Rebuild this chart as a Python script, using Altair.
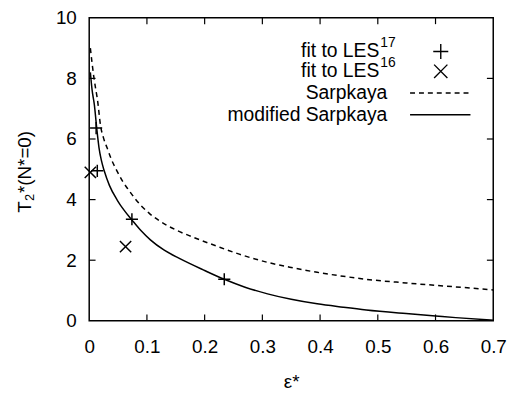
import altair as alt
import pandas as pd

# Sarpkaya (dashed)
sarp_eps = [0.002, 0.005, 0.008, 0.011, 0.014, 0.02, 0.025, 0.031, 0.038, 0.048, 0.058, 0.069,
            0.08, 0.09, 0.105, 0.12, 0.15, 0.18, 0.223, 0.26, 0.309, 0.35, 0.395, 0.44,
            0.48, 0.549, 0.6, 0.635, 0.7]
sarp_T = [9.0, 8.5, 8.05, 7.68, 7.34, 6.4, 6.02, 5.71, 5.35, 4.95, 4.6, 4.30,
          4.02, 3.80, 3.53, 3.32, 3.0, 2.76, 2.45, 2.2, 1.93, 1.76, 1.60, 1.47,
          1.37, 1.25, 1.17, 1.12, 1.02]

# modified Sarpkaya (solid)
mod_eps = [0.002, 0.005, 0.009, 0.013, 0.017, 0.021, 0.026, 0.035, 0.049, 0.06, 0.074, 0.09,
           0.106, 0.13, 0.157, 0.2, 0.234, 0.27, 0.309, 0.35, 0.395, 0.44, 0.48, 0.549,
           0.6, 0.635, 0.7]
mod_T = [8.2, 7.62, 7.12, 6.36, 5.71, 5.3, 4.95, 4.47, 3.97, 3.66, 3.33, 2.97,
         2.67, 2.33, 2.05, 1.66, 1.37, 1.11, 0.89, 0.71, 0.56, 0.45, 0.36, 0.24,
         0.16, 0.105, 0.02]

# fit to LES17 (+)
les17_eps = [0.012, 0.014, 0.074, 0.234]
les17_T = [6.36, 4.95, 3.35, 1.37]

# fit to LES16 (x)
les16_eps = [0.002, 0.063]
les16_T = [4.9, 2.45]

x_ticks = [0, 0.1, 0.2, 0.3, 0.4, 0.5, 0.6, 0.7]
y_ticks = [0, 2, 4, 6, 8, 10]

legend_labels = ["fit to LES", "fit to LES", "Sarpkaya", "modified Sarpkaya"]
legend_sups = ["17", "16", "", ""]

y_title_parts = ["T", "2", "*(N*=0)"]

FONT = "Liberation Sans"
W, H = 408, 306
TOP = 8

xs = alt.Scale(domain=[0, 0.7], nice=False, zero=False)
ys = alt.Scale(domain=[0, 10], nice=False)

sarp = pd.DataFrame({"eps": sarp_eps, "T": sarp_T})
mod = pd.DataFrame({"eps": mod_eps, "T": mod_T})
p17 = pd.DataFrame({"eps": les17_eps, "T": les17_T})
p16 = pd.DataFrame({"eps": les16_eps, "T": les16_T})

PLUS = "M-1,0L1,0M0,-1L0,1"
CROSS = "M-1,-1L1,1M-1,1L1,-1"

base_x = alt.X("eps:Q", scale=xs,
               axis=alt.Axis(values=x_ticks, format=".1~f", title="ε*", grid=False,
                             ticks=False, domain=False, labelPadding=17,
                             labelFlush=False, titlePadding=16))
base_y = alt.Y("T:Q", scale=ys,
               axis=alt.Axis(values=y_ticks, title="", grid=False,
                             ticks=False, domain=False, labelPadding=13))

line_sarp = alt.Chart(sarp).mark_line(color="black", strokeWidth=1.5, interpolate="monotone",
                                      strokeDash=[5, 4], clip=True).encode(
    x=base_x, y=base_y, order="eps:Q")
line_mod = alt.Chart(mod).mark_line(color="black", strokeWidth=1.5, interpolate="monotone",
                                    clip=True).encode(
    x=alt.X("eps:Q", scale=xs), y=alt.Y("T:Q", scale=ys), order="eps:Q")

pts17 = alt.Chart(p17).mark_point(shape=PLUS, size=150, color="black", filled=False,
                                  strokeWidth=1.5, opacity=1).encode(
    x=alt.X("eps:Q", scale=xs), y=alt.Y("T:Q", scale=ys))
pts16 = alt.Chart(p16).mark_point(shape=CROSS, size=130, color="black", filled=False,
                                  strokeWidth=1.5, opacity=1).encode(
    x=alt.X("eps:Q", scale=xs), y=alt.Y("T:Q", scale=ys))

# inward ticks (gnuplot style)
tick_len_y = 0.21
tick_len_x = 0.011
xt = [v for v in x_ticks if 0 < v < 0.7]
yt = [v for v in y_ticks if 0 < v < 10]
tick_rows = []
for v in xt:
    tick_rows.append({"x": v, "x2": v, "y": 0, "y2": tick_len_y})
    tick_rows.append({"x": v, "x2": v, "y": 10, "y2": 10 - tick_len_y})
for v in yt:
    tick_rows.append({"x": 0, "x2": tick_len_x, "y": v, "y2": v})
    tick_rows.append({"x": 0.7, "x2": 0.7 - tick_len_x, "y": v, "y2": v})
ticks = alt.Chart(pd.DataFrame(tick_rows)).mark_rule(color="black", strokeWidth=1.2).encode(
    x=alt.X("x:Q", scale=xs), x2="x2:Q", y=alt.Y("y:Q", scale=ys), y2="y2:Q")

# legend (inside the frame, top right)
row_y = [34, 54, 76, 98]
leg_layers = []
for i, lab in enumerate(legend_labels):
    leg_layers.append(alt.Chart(pd.DataFrame({"t": [lab]})).mark_text(
        align="right", baseline="middle", font=FONT, fontSize=19.5, color="black").encode(
        x=alt.value(293 if legend_sups[i] else 301), y=alt.value(row_y[i]), text="t:N"))
    if legend_sups[i]:
        leg_layers.append(alt.Chart(pd.DataFrame({"t": [legend_sups[i]]})).mark_text(
            align="left", baseline="middle", font=FONT, fontSize=14, color="black").encode(
            x=alt.value(294), y=alt.value(row_y[i] - 8), text="t:N"))

leg_plus = alt.Chart(pd.DataFrame({"a": [0]})).mark_point(
    shape=PLUS, size=230, color="black", filled=False, strokeWidth=1.4, opacity=1).encode(
    x=alt.value(355), y=alt.value(row_y[0]))
leg_cross = alt.Chart(pd.DataFrame({"a": [0]})).mark_point(
    shape=CROSS, size=180, color="black", filled=False, strokeWidth=1.4, opacity=1).encode(
    x=alt.value(355), y=alt.value(row_y[1]))
leg_dash = alt.Chart(pd.DataFrame({"a": [0]})).mark_rule(
    color="black", strokeWidth=1.5, strokeDash=[5, 4]).encode(
    x=alt.value(324), x2=alt.value(385), y=alt.value(row_y[2]))
leg_solid = alt.Chart(pd.DataFrame({"a": [0]})).mark_rule(
    color="black", strokeWidth=1.5).encode(
    x=alt.value(324), x2=alt.value(385), y=alt.value(row_y[3]))

# y title built from pieces (subscript 2), rotated
yt_T = alt.Chart(pd.DataFrame({"t": [y_title_parts[0]]})).mark_text(
    align="left", baseline="middle", angle=270, font=FONT, fontSize=19, color="black").encode(
    x=alt.value(-65), y=alt.value(197), text="t:N")
yt_2 = alt.Chart(pd.DataFrame({"t": [y_title_parts[1]]})).mark_text(
    align="left", baseline="middle", angle=270, font=FONT, fontSize=13, color="black").encode(
    x=alt.value(-60), y=alt.value(185), text="t:N")
yt_rest = alt.Chart(pd.DataFrame({"t": [y_title_parts[2]]})).mark_text(
    align="left", baseline="middle", angle=270, font=FONT, fontSize=19, color="black").encode(
    x=alt.value(-65), y=alt.value(177), text="t:N")

chart = alt.layer(line_sarp, line_mod, pts17, pts16, ticks, *leg_layers,
                  leg_plus, leg_cross, leg_dash, leg_solid, yt_T, yt_2, yt_rest).properties(
    width=W, height=H,
    autosize=alt.AutoSizeParams(type="none"),
    padding={"left": 82, "top": TOP, "right": 25, "bottom": 70},
    background="white",
).configure_view(stroke="black", strokeWidth=1.5).configure_axis(
    labelFont=FONT, titleFont=FONT, labelFontSize=19, titleFontSize=19,
    labelColor="black", titleColor="black", titleFontWeight="normal",
)

chart.save("out.html", embed_options={"renderer": "svg", "actions": False})
